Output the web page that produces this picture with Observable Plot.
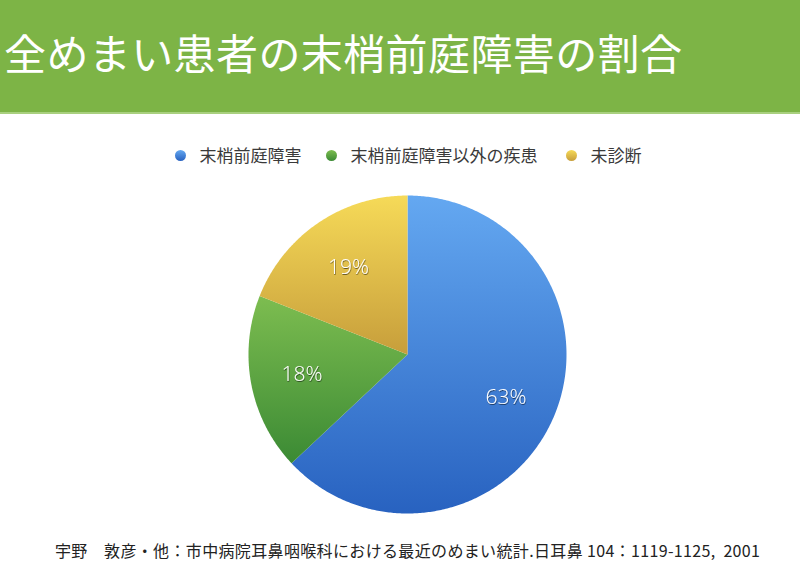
<!DOCTYPE html>
<html>
<head>
<meta charset="utf-8">
<script src="https://cdn.jsdelivr.net/npm/d3@7"></script>
<script src="https://cdn.jsdelivr.net/npm/@observablehq/plot@0.6"></script>
<style>
  html, body { margin: 0; padding: 0; background: #fff; }
  body { width: 800px; height: 588px; position: relative; overflow: hidden;
         font-family: "Noto Sans CJK JP", "Noto Sans", sans-serif; }
  #title { position: absolute; left: 0; top: 0; width: 800px; height: 112px;
           background: #7db446; border-bottom: 2px solid #a9d07f; box-sizing: content-box; }
  #title span { position: absolute; left: 4px; top: 27px; font-size: 42px; line-height: 50px;
                color: #fff; font-weight: 400; letter-spacing: 0.4px; white-space: nowrap; }
  #legend { position: absolute; top: 144px; left: 0; width: 800px; height: 22px; }
  .li { position: absolute; top: 0; display: flex; align-items: center; font-size: 17px;
        line-height: 22px; color: #3a3a3a; white-space: nowrap; }
  .dot { width: 11px; height: 11px; border-radius: 50%; margin-right: 14px; }
  #chart { position: absolute; left: 0; top: 185px; }
  #caption { position: absolute; left: 55px; top: 540px; font-size: 16px; line-height: 20px;
             color: #222; white-space: pre; letter-spacing: 0.35px; }
</style>
</head>
<body>
<div id="title"><span></span></div>
<div id="legend"></div>
<div id="chart"></div>
<div id="caption"></div>
<script>
const titleText = "全めまい患者の末梢前庭障害の割合";
const categories = ["末梢前庭障害", "末梢前庭障害以外の疾患", "未診断"];
const values = [63, 18, 19];
const labels = ["63%", "18%", "19%"];
const gradTop = ["#64a8f1", "#7dbd50", "#f6da58"];
const gradBottom = ["#2862c0", "#3b8a34", "#c79e3b"];
const legendX = [174.5, 325.5, 565.5];
const captionText = "宇野　敦彦・他：市中病院耳鼻咽喉科における最近のめまい統計.日耳鼻 104：1119-1125,  2001";

document.querySelector("#title span").textContent = titleText;
document.getElementById("caption").textContent = captionText;

const legend = document.getElementById("legend");
categories.forEach((c, i) => {
  const d = document.createElement("div");
  d.className = "li";
  d.style.left = legendX[i] + "px";
  d.innerHTML = `<span class="dot" style="background:linear-gradient(${gradTop[i]},${gradBottom[i]})"></span><span></span>`;
  d.lastChild.textContent = c;
  legend.appendChild(d);
});

// slices: angle from 12 o'clock, clockwise
const total = d3.sum(values);
let acc = 0;
const slices = values.map((v, i) => {
  const a0 = acc / total * 2 * Math.PI;
  acc += v;
  const a1 = acc / total * 2 * Math.PI;
  const pts = [{x: 0, y: 0}];
  const n = Math.max(4, Math.ceil((a1 - a0) / 0.01));
  for (let k = 0; k <= n; k++) {
    const a = a0 + (a1 - a0) * k / n;
    pts.push({x: Math.sin(a), y: Math.cos(a)});
  }
  pts.push({x: 0, y: 0});
  return {i, pts, a0, a1, name: categories[i], label: labels[i]};
});

// label positions (fraction of radius)
const labelR = [0.675, 0.675, 0.66];
const labelData = slices.map((s, k) => {
  const m = (s.a0 + s.a1) / 2;
  return {x: Math.sin(m) * labelR[k], y: Math.cos(m) * labelR[k], label: s.label};
});

const defs = () => {
  const ns = "http://www.w3.org/2000/svg";
  const g = document.createElementNS(ns, "defs");
  slices.forEach((s, i) => {
    const lg = document.createElementNS(ns, "linearGradient");
    lg.setAttribute("id", "grad" + i);
    lg.setAttribute("x1", "0"); lg.setAttribute("y1", "0");
    lg.setAttribute("x2", "0"); lg.setAttribute("y2", "1");
    [[0, gradTop[i]], [1, gradBottom[i]]].forEach(([o, c]) => {
      const st = document.createElementNS(ns, "stop");
      st.setAttribute("offset", o);
      st.setAttribute("stop-color", c);
      lg.appendChild(st);
    });
    g.appendChild(lg);
  });
  const f = document.createElementNS(ns, "filter");
  f.setAttribute("id", "shadow");
  f.setAttribute("x", "-20%"); f.setAttribute("y", "-20%");
  f.setAttribute("width", "140%"); f.setAttribute("height", "140%");
  f.innerHTML = '<feDropShadow dx="0.5" dy="1" stdDeviation="0.6" flood-color="#000" flood-opacity="0.55"/>';
  g.appendChild(f);
  return g;
};

const plot = Plot.plot({
  width: 800,
  height: 340,
  marginLeft: 248,
  marginRight: 234,
  marginTop: 10,
  marginBottom: 12,
  x: {domain: [-1, 1], axis: null},
  y: {domain: [-1, 1], axis: null},
  style: {background: "transparent", overflow: "visible"},
  marks: [
    defs,
    ...slices.map((s, i) => Plot.line(s.pts, {
      x: "x", y: "y", fill: `url(#grad${i})`, stroke: "none", curve: "linear"
    })),
    Plot.text(labelData, {
      x: "x", y: "y", text: "label", fill: "white", fontSize: 21,
      fontFamily: "Open Sans, Noto Sans, sans-serif", fontWeight: 300
    })
  ]
});
document.getElementById("chart").appendChild(plot);
plot.querySelectorAll("text").forEach(t => t.setAttribute("filter", "url(#shadow)"));
</script>
</body>
</html>
